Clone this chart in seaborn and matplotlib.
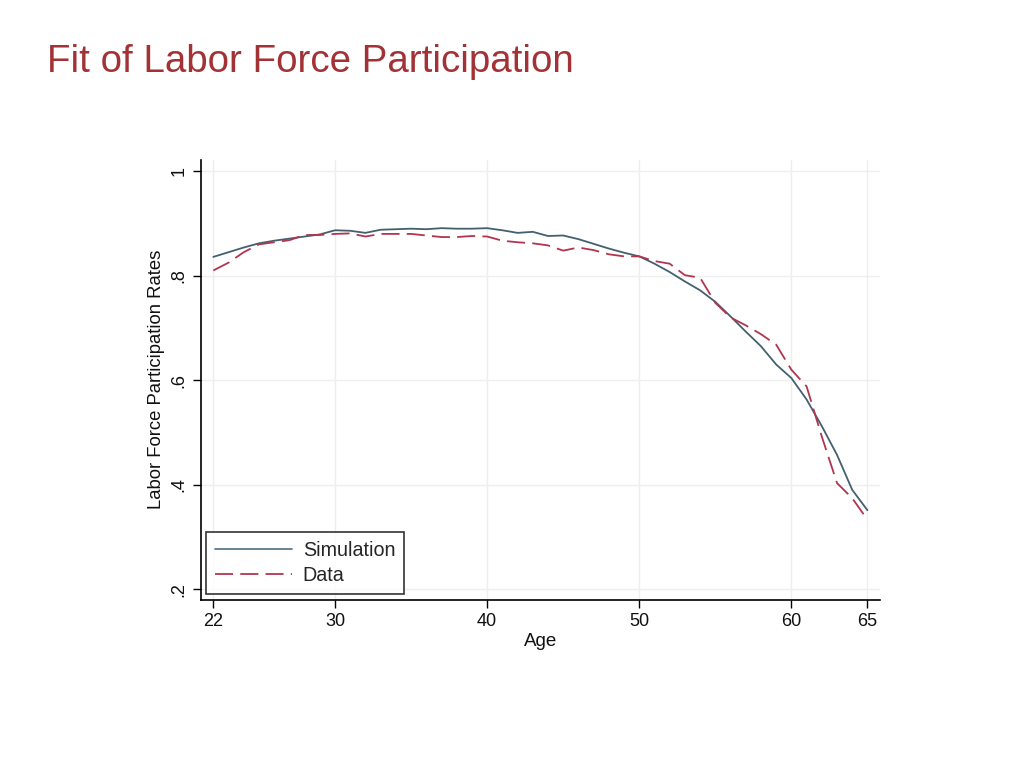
import matplotlib
matplotlib.use("Agg")
import matplotlib.pyplot as plt
import seaborn as sns
import pandas as pd

ages = list(range(22, 66))
simulation = [0.836, 0.845, 0.854, 0.862, 0.867, 0.871, 0.875, 0.879, 0.887, 0.886,
              0.882, 0.888, 0.889, 0.890, 0.889, 0.891, 0.890, 0.890, 0.891, 0.887,
              0.882, 0.884, 0.876, 0.877, 0.870, 0.861, 0.852, 0.844, 0.837, 0.823,
              0.807, 0.789, 0.772, 0.750, 0.722, 0.693, 0.665, 0.630, 0.604, 0.563,
              0.512, 0.457, 0.390, 0.351]
data = [0.810, 0.825, 0.845, 0.860, 0.864, 0.868, 0.878, 0.878, 0.880, 0.881,
        0.875, 0.880, 0.880, 0.880, 0.877, 0.874, 0.874, 0.876, 0.875, 0.867,
        0.864, 0.862, 0.858, 0.848, 0.854, 0.849, 0.841, 0.837, 0.837, 0.828,
        0.823, 0.801, 0.796, 0.748, 0.720, 0.705, 0.688, 0.668, 0.620, 0.588,
        0.492, 0.403, 0.374, 0.333]
x_ticks = [22, 30, 40, 50, 60, 65]
y_ticks = [0.2, 0.4, 0.6, 0.8, 1.0]
y_tick_labels = [".2", ".4", ".6", ".8", "1"]

sns.set_theme(style="white")
plt.rcParams['font.family'] = ['Liberation Sans', 'DejaVu Sans']

df_sim = pd.DataFrame({"Age": ages, "Rate": simulation})
df_dat = pd.DataFrame({"Age": ages, "Rate": data})

fig = plt.figure(figsize=(10.24, 7.68), dpi=100)
ax = fig.add_axes([0.196, 0.219, 0.663, 0.573])

sns.lineplot(data=df_sim, x="Age", y="Rate", ax=ax, color="#44606f",
             linewidth=1.3, label="Simulation")
sns.lineplot(data=df_dat, x="Age", y="Rate", ax=ax, color="#b2354f",
             linewidth=1.3, label="Data")
ax.lines[1].set_dashes((10, 4))

ax.set_xlim(21.17, 65.8)
ax.set_ylim(0.1795, 1.022)
ax.set_xticks(x_ticks)
ax.set_yticks(y_ticks)
ax.set_yticklabels(y_tick_labels, rotation=90, va="center")
ax.tick_params(axis="both", which="major", direction="out", length=6, width=1,
               color="black", labelsize=13, labelcolor="#111111", left=True, bottom=True)
ax.grid(True, color="#eeeeee", linewidth=1)
for s in ["top", "right"]:
    ax.spines[s].set_visible(False)
for s in ["left", "bottom"]:
    ax.spines[s].set_color("black")
    ax.spines[s].set_linewidth(1.2)

ax.set_xlabel("Age", fontsize=13.5, color="#111111", labelpad=2)
ax.set_ylabel("Labor Force Participation Rates", fontsize=13.3, color="#111111", labelpad=4)

leg = ax.legend(loc="lower left", fontsize=14.2, frameon=True, fancybox=False,
                edgecolor="black", handlelength=3.9, handletextpad=0.55,
                borderpad=0.45, borderaxespad=0, labelspacing=0.3,
                bbox_to_anchor=(0.008, 0.0136))
leg.get_frame().set_linewidth(1.2)
leg.get_lines()[0].set_color("#5a7a8c")

fig.text(0.046, 0.906, "Fit of Labor Force Participation", fontsize=27.7,
         color="#a33236", ha="left", va="baseline")

fig.savefig("out.png", dpi=100)
